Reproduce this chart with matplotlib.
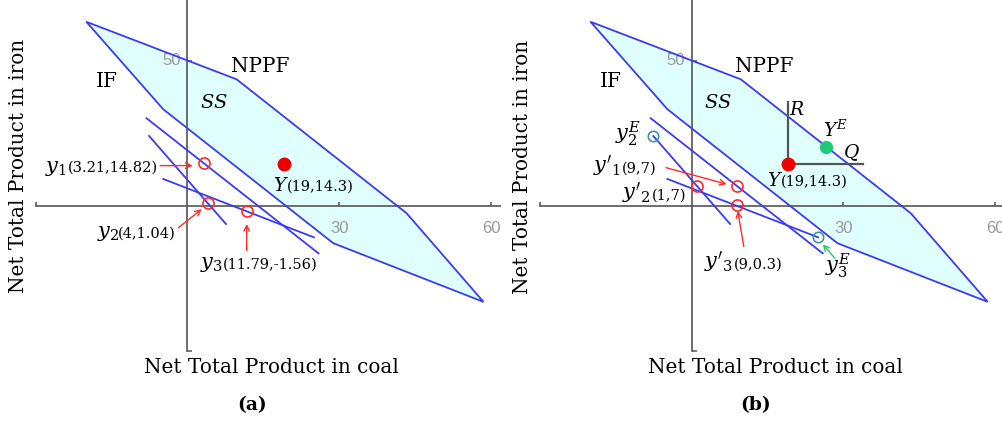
import matplotlib
matplotlib.use("Agg")
import matplotlib.pyplot as plt
import matplotlib.markers as mk
from matplotlib.patches import Polygon

# ---- data -----------------------------------------------------------------
# surplus set (SS) bounded by the NPPF (upper) and IF (lower) frontiers
ss_coal = [-20.0, 9.7, 43.3, 58.5, 28.8, -4.8]
ss_iron = [63.4, 43.6, -2.5, -33.0, -12.8, 33.3]

# three straight segments (coal, iron endpoints)
seg1_coal = [-8.1, 25.9]
seg1_iron = [30.2, -16.3]
seg2_coal = [-7.6, 7.6]
seg2_iron = [24.1, -6.2]
seg3_coal = [-4.8, 25.0]
seg3_iron = [9.3, -10.8]

# panel (a) points
pts_a_names = ["y_1", "y_2", "y_3"]
pts_a_coal = [3.21, 4.0, 11.79]
pts_a_iron = [14.82, 1.04, -1.56]
pts_a_text = ["(3.21,14.82)", "(4,1.04)", "(11.79,-1.56)"]

# panel (b) points
pts_b_names = ["y'_1", "y'_2", "y'_3"]
pts_b_coal = [9.0, 1.0, 9.0]
pts_b_iron = [7.0, 7.0, 0.3]
pts_b_text = ["(9,7)", "(1,7)", "(9,0.3)"]

big_y = (19.0, 14.3)
big_y_text = "(19,14.3)"
y_e = (26.5, 20.4)
r_top = 35.7
q_right = 33.9

x_ticks = [-30, 30, 60]
x_tick_labels = ["", "30", "60"]
y_ticks = [-50, 50]
y_tick_labels = ["", "50"]

# ---- style ----------------------------------------------------------------
W, H = 1003, 423
XS, YS = 5.06, 2.906          # pixels per data unit
BLUE = "#3b3bf0"
FILL = "#e0ffff"
AXC = "#555555"
RED = "#ff2a2a"
TEAL = "#3a9a9a"
GREEN = "#20c878"
TICKC = "#9a9a9a"
SERIF = "DejaVu Serif"
MATH_LC = 15      # lowercase math symbols
MATH_UC = 13.5    # capital math symbols
COORD = 10.5

plt.rcParams["mathtext.fontset"] = "dejavuserif"
fig = plt.figure(figsize=(W / 100, H / 100), dpi=100)


def make_axes(left_px, right_px, ox, oy):
    ax = fig.add_axes([left_px / W, 0, (right_px - left_px) / W, 1])
    ax.set_xlim((left_px - ox) / XS, (right_px - ox) / XS)
    ax.set_ylim((oy - H) / YS, oy / YS)
    ax.axis("off")
    return ax


def ftext(px, py, s, **kw):
    kw.setdefault("ha", "left")
    kw.setdefault("va", "baseline")
    fig.text(px / W, 1 - py / H, s, **kw)


def base_panel(ax):
    ax.add_patch(Polygon(list(zip(ss_coal, ss_iron)), closed=True,
                         facecolor=FILL, edgecolor="none", zorder=1))
    ax.plot([x_ticks[0], 62], [0, 0], color=AXC, lw=1.2, zorder=2)
    ax.plot([0, 0], [y_ticks[0], 80], color=AXC, lw=1.2, zorder=2)
    ax.plot(x_ticks, [0] * len(x_ticks), ls="none", marker=mk.TICKUP,
            ms=3.2, mew=1.1, color=AXC, zorder=2)
    ax.plot([0] * len(y_ticks), y_ticks, ls="none", marker=mk.TICKRIGHT,
            ms=3.8, mew=1.1, color=AXC, zorder=2)
    for t, lab in zip(x_ticks, x_tick_labels):
        if lab:
            ax.annotate(lab, (t, 0), xytext=(0, -11), textcoords="offset points",
                        ha="center", va="top", fontsize=12, color=TICKC,
                        family="Liberation Sans", zorder=2)
    for t, lab in zip(y_ticks, y_tick_labels):
        if lab:
            ax.annotate(lab, (0, t), xytext=(-5, 0), textcoords="offset points",
                        ha="right", va="center", fontsize=12, color=TICKC,
                        family="Liberation Sans", zorder=2)
    ax.add_patch(Polygon(list(zip(ss_coal, ss_iron)), closed=True,
                         facecolor="none", edgecolor=BLUE, lw=1.3, zorder=3))
    for cx, cy in ((seg1_coal, seg1_iron), (seg2_coal, seg2_iron),
                   (seg3_coal, seg3_iron)):
        ax.plot(cx, cy, color=BLUE, lw=1.3, zorder=3)


def arrow(ax, head, tail, color):
    ax.annotate("", xy=head, xytext=tail,
                arrowprops=dict(arrowstyle="->", color=color, lw=1.0,
                                shrinkA=0, shrinkB=0, mutation_scale=10),
                zorder=5)


# ---- panel (a) ------------------------------------------------------------
OXA, OY = 187.5, 206.0
axa = make_axes(0, 501.5, OXA, OY)
base_panel(axa)
axa.plot(pts_a_coal, pts_a_iron, ls="none", marker="o", ms=8, mfc="none",
         mec=RED, mew=1.2, zorder=4)
axa.plot([big_y[0]], [big_y[1]], "o", ms=9, color="#ee0000", zorder=4)
arrow(axa, (1.0, 13.9), (-5.4, 13.9), RED)
arrow(axa, (2.8, -1.1), (-1.8, -7.5), RED)
arrow(axa, (11.7, -6.2), (11.7, -15.4), RED)

ftext(96, 86.7, "IF", fontsize=14.4, family=SERIF)
ftext(231, 71.7, "NPPF", fontsize=14.4, family=SERIF)
ftext(200, 108.3, "$SS$", fontsize=14)
lab_a = [(45, 67.5, 171.5), (96.7, 118, 237.3), (200, 222.5, 268.3)]
for (nx, cx, by), name, txt in zip(lab_a, pts_a_names, pts_a_text):
    ftext(nx, by, "$" + name + "$", fontsize=MATH_LC)
    ftext(cx, by, txt, fontsize=COORD, family=SERIF)
ftext(272.7, 190.7, "$Y$", fontsize=MATH_UC)
ftext(287, 190.7, big_y_text, fontsize=COORD, family=SERIF)

ftext(271.4, 372.7, "Net Total Product in coal", ha="center", fontsize=14.4,
      family=SERIF)
ftext(18.3, 166.3, "Net Total Product in iron", ha="center", va="center",
      rotation=90, fontsize=14.4, family=SERIF)
ftext(252, 405, "(a)", ha="center", va="center", fontsize=13.5,
      fontweight="bold", family=SERIF)

# ---- panel (b) ------------------------------------------------------------
OXB = 691.7
axb = make_axes(501.5, 1003, OXB, OY)
base_panel(axb)
axb.plot([big_y[0], big_y[0]], [big_y[1], r_top], color=AXC, lw=1.6, zorder=3)
axb.plot([big_y[0], q_right], [big_y[1], big_y[1]], color=AXC, lw=1.6, zorder=3)
axb.plot(pts_b_coal, pts_b_iron, ls="none", marker="o", ms=8, mfc="none",
         mec=RED, mew=1.2, zorder=4)
axb.plot([seg2_coal[0], seg3_coal[1]], [seg2_iron[0], seg3_iron[1]], ls="none",
         marker="o", ms=7.5, mfc="none", mec=TEAL, mew=1.2, zorder=4)
axb.plot([big_y[0]], [big_y[1]], "o", ms=9, color="#ee0000", zorder=4)
axb.plot([y_e[0]], [y_e[1]], "o", ms=8.5, color=GREEN, zorder=4)
arrow(axb, (6.9, 7.5), (-5.1, 13.2), RED)
arrow(axb, (9.1, -1.7), (10.3, -14.0), RED)
arrow(axb, (25.9, -13.2), (28.3, -18.0), GREEN)

ftext(600, 86.7, "IF", fontsize=14.4, family=SERIF)
ftext(735, 71.7, "NPPF", fontsize=14.4, family=SERIF)
ftext(704, 108.3, "$SS$", fontsize=14)
ftext(789.3, 115, "$R$", fontsize=MATH_UC)
ftext(843.3, 158.3, "$Q$", fontsize=MATH_UC)
ftext(822.7, 136.7, "$Y^E$", fontsize=MATH_UC)
ftext(615, 140, "$y_2^E$", fontsize=MATH_LC)
ftext(825, 271.7, "$y_3^E$", fontsize=MATH_LC)
lab_b = [(593.3, 621.5, 172.7), (621.7, 651.5, 199.3), (704, 734, 268.3)]
for (nx, cx, by), name, txt in zip(lab_b, pts_b_names, pts_b_text):
    ftext(nx, by, "$" + name + "$", fontsize=MATH_LC)
    ftext(cx, by, txt, fontsize=COORD, family=SERIF)
ftext(766.7, 186, "$Y$", fontsize=MATH_UC)
ftext(781, 186, big_y_text, fontsize=COORD, family=SERIF)

ftext(775, 372.7, "Net Total Product in coal", ha="center", fontsize=14.4,
      family=SERIF)
ftext(522.5, 166.7, "Net Total Product in iron", ha="center", va="center",
      rotation=90, fontsize=14.4, family=SERIF)
ftext(755.8, 405, "(b)", ha="center", va="center", fontsize=13.5,
      fontweight="bold", family=SERIF)

fig.savefig("out.png", dpi=100)
